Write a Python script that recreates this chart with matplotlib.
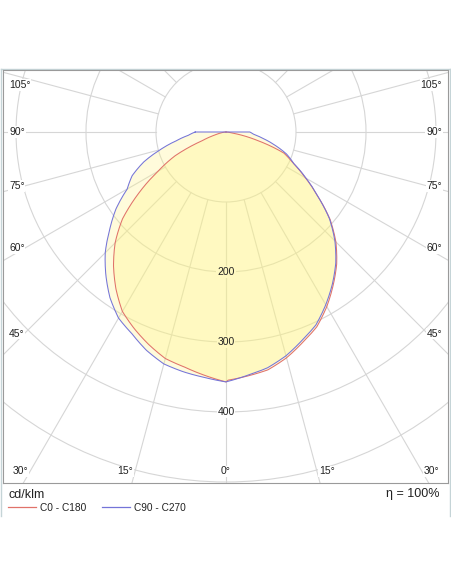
import numpy as np
import matplotlib
matplotlib.use("Agg")
import matplotlib.pyplot as plt
from matplotlib.patches import Circle
from matplotlib.lines import Line2D

plt.rcParams['font.family'] = ['Liberation Sans', 'DejaVu Sans']

# luminous intensity (cd/klm) every 5 deg from nadir (0) to horizontal (90)
gamma = [0, 5, 10, 15, 20, 25, 30, 35, 40, 45, 50, 55, 60, 65, 70, 75, 80, 85, 90]
c0 = [355, 350, 345, 334, 320, 307, 288, 267, 246, 222, 194, 160, 131, 106, 88, 46, 13, 3, 0]
c180 = [357, 349, 341, 335, 323, 310, 296, 274, 250, 224, 193, 152, 112, 80, 36, 16, 7, 2, 0]
c90 = [357, 349, 342, 331, 317, 304, 285, 265, 244, 220, 193, 160, 132, 107, 92, 72, 54, 40, 34]
c270 = [357, 352, 348, 343, 332, 318, 307, 289, 267, 244, 217, 192, 163, 148, 125, 97, 72, 54, 44]

ring_values = [100, 200, 300, 400, 500, 600]
ring_labels = [200, 300, 400]
side_angles = [105, 90, 75, 60, 45]
bottom_angles = [-30, -15, 0, 15, 30]
efficiency = 100

px = 0.70  # pixels per cd/klm
cx, cy = 226, 132
grid_col = '#d6d6d6'
txt_col = '#222222'
red, blue = '#e0726a', '#7474d8'
fs = 7.5

fig = plt.figure(figsize=(4.52, 5.84), dpi=100)
fig.patch.set_facecolor('white')

# background axes in pixel units for the outer frame
bg = fig.add_axes([0, 0, 1, 1])
bg.set_xlim(0, 452)
bg.set_ylim(584, 0)
bg.axis('off')
frame_col = '#c5d4d7'
bg.plot([1.5, 450.5], [68.5, 68.5], color=frame_col, lw=1)
bg.plot([1.5, 1.5], [68.5, 516], color=frame_col, lw=1)
bg.plot([450.5, 450.5], [68.5, 516], color=frame_col, lw=1)

# polar diagram axes, data in cd/klm
left, right, top, bottom = 3, 448, 70, 483
ax = fig.add_axes([left / 452, (584 - bottom) / 584, (right - left) / 452, (bottom - top) / 584])
ax.set_xlim((left - cx) / px, (right - cx) / px)
ax.set_ylim((cy - bottom) / px, (cy - top) / px)
ax.set_xticks([])
ax.set_yticks([])
for s in ax.spines.values():
    s.set_color('#9a9a9a')
    s.set_linewidth(0.8)

for r in ring_values:
    ax.add_patch(Circle((0, 0), r, fill=False, ec=grid_col, lw=0.8, zorder=1))
for a in range(0, 360, 15):
    t = np.radians(a)
    ax.plot([100 * np.sin(t), 800 * np.sin(t)], [-100 * np.cos(t), -800 * np.cos(t)],
            color=grid_col, lw=0.8, zorder=1)

box = dict(facecolor='white', edgecolor='none', pad=0.6)
for v in ring_labels:
    # white knockout under the fill, then the text itself on top
    ax.text(0, -v, str(v), ha='center', va='center', fontsize=fs, color='none',
            bbox=box, zorder=2)
    ax.text(0, -v, str(v), ha='center', va='center', fontsize=fs, color=txt_col, zorder=5)

for a in side_angles:
    y = -288 / np.tan(np.radians(a)) if a != 90 else 0
    y = min(y, 67)
    ax.text((9 - cx) / px, y, f"{a}°", ha='left', va='center', fontsize=fs,
            color=txt_col, bbox=box, zorder=2)
    ax.text((442 - cx) / px, y, f"{a}°", ha='right', va='center', fontsize=fs,
            color=txt_col, bbox=box, zorder=2)
for a in bottom_angles:
    x = np.sign(a) * (485 * np.tan(np.radians(abs(a))) + 14)
    ax.text(x, -485, f"{abs(a)}°", ha='center', va='center', fontsize=fs,
            color=txt_col, bbox=box, zorder=2)


def curve(right_vals, left_vals):
    # trace the polar curve with a fine angular step between the measured angles
    g = np.arange(0, 90.25, 0.5)
    r_r = np.interp(g, gamma, right_vals)
    r_l = np.interp(g, gamma, left_vals)
    ang = np.radians(np.concatenate([-g[::-1], g[1:]]))
    vals = np.concatenate([r_l[::-1], r_r[1:]])
    return vals * np.sin(ang), -vals * np.cos(ang)


xr, yr = curve(c0, c180)
xb, yb = curve(c90, c270)

ax.fill(xr, yr, color='#fff47e', alpha=0.28, lw=0, zorder=3)
ax.fill(xb, yb, color='#fff47e', alpha=0.28, lw=0, zorder=3)
ax.plot(np.append(xr, xr[0]), np.append(yr, yr[0]), color=red, lw=0.75, zorder=4)
ax.plot(np.append(xb, xb[0]), np.append(yb, yb[0]), color=blue, lw=0.75, zorder=4)

bg.text(9, 495, "cd/klm", ha='left', va='center', fontsize=9, color=txt_col)
bg.text(440, 494, f"η = {efficiency}%", ha='right', va='center', fontsize=9, color=txt_col)

handles = [Line2D([], [], color=red, lw=0.9), Line2D([], [], color=blue, lw=0.9)]
fig.legend(handles, ["C0 - C180", "C90 - C270"], loc='center left',
           bbox_to_anchor=(8 / 452, 1 - 508 / 584), ncol=2, frameon=False,
           fontsize=7.3, handlelength=2.8, handletextpad=0.4, columnspacing=1.5,
           borderpad=0, borderaxespad=0, labelcolor=txt_col)

fig.savefig("out.png", dpi=100, facecolor='white')
plt.close(fig)
